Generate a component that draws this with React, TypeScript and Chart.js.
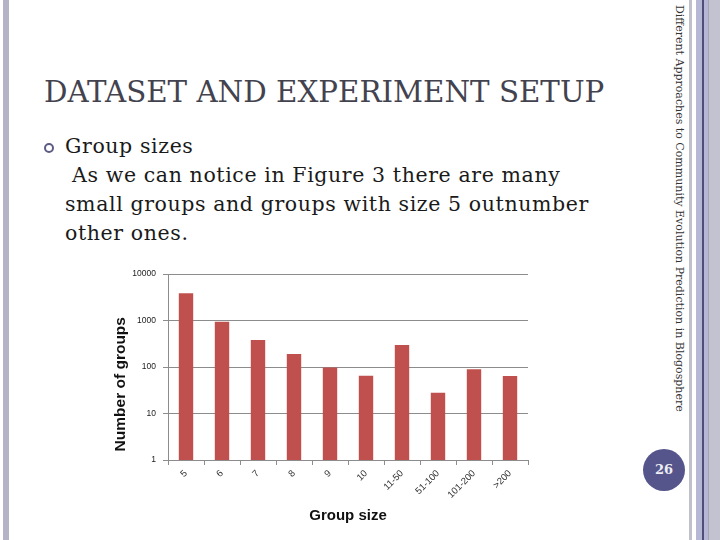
import React, { useEffect, useRef } from "react";
import { Chart, registerables } from "chart.js";

Chart.register(...registerables);

const groupSizes = ["5", "6", "7", "8", "9", "10", "11-50", "51-100", "101-200", ">200"];
const groupCounts = [3850, 940, 380, 190, 98, 65, 300, 28, 90, 64];
const countTicks = [1, 10, 100, 1000, 10000];

const slideTitle = "DATASET AND EXPERIMENT SETUP";
const bulletHead = "Group sizes";
const bulletLines = [
    "\u00a0As we can notice in Figure 3 there are many",
    "small groups and groups with size 5 outnumber",
    "other ones.",
];
const sideText = "Different Approaches to Community Evolution Prediction in Blogosphere";
const pageNumber = "26";

const axisGrey = "#8c8c8c";

const GroupSizeChart: React.FC = () => {
    const chartRef = useRef<HTMLCanvasElement | null>(null);

    useEffect(() => {
        if (!chartRef.current) return;
        const chart = new Chart(chartRef.current, {
            type: "bar",
            data: {
                labels: groupSizes,
                datasets: [
                    {
                        label: "Number of groups",
                        data: groupCounts,
                        backgroundColor: "#c0504d",
                        barPercentage: 0.4,
                        categoryPercentage: 1,
                    },
                ],
            },
            options: {
                animation: false,
                responsive: false,
                layout: {padding: {top: 12, right: 12, left: 0, bottom: 0}},
                plugins: {
                    legend: {display: false},
                    tooltip: {enabled: false},
                },
                scales: {
                    x: {
                        afterFit: (scale: any) => {
                            scale.height = 72;
                        },
                        grid: {
                            drawOnChartArea: false,
                            drawTicks: true,
                            tickLength: 5,
                            color: axisGrey,
                            offset: true,
                        },
                        border: {color: axisGrey},
                        ticks: {
                            minRotation: 45,
                            maxRotation: 45,
                            padding: 3,
                            color: "#333",
                            font: {family: "'Liberation Sans', Arial", size: 9.5},
                        },
                        title: {
                            display: true,
                            text: "Group size",
                            color: "#111",
                            font: {family: "'Liberation Sans', Arial", size: 15, weight: "bold"},
                            padding: {top: 0, bottom: 7},
                        },
                    },
                    y: {
                        type: "logarithmic",
                        min: 1,
                        max: 10000,
                        afterFit: (scale: any) => {
                            scale.width = 68;
                        },
                        afterBuildTicks: (scale: any) => {
                            scale.ticks = countTicks.map((v) => ({value: v}));
                        },
                        grid: {color: axisGrey, tickLength: 5},
                        border: {color: axisGrey},
                        ticks: {
                            padding: 7,
                            color: "#222",
                            font: {family: "'Liberation Sans', Arial", size: 8.5},
                            callback: (v: any) => String(v),
                        },
                        title: {
                            display: true,
                            // leading spaces lift the title a little off the axis corner
                            text: "\u00a0\u00a0Number of groups",
                            align: "start",
                            color: "#111",
                            font: {family: "'Liberation Sans', Arial", size: 15.5, weight: "bold"},
                            padding: {top: 11, bottom: 0},
                        },
                    },
                },
            },
        });
        return () => chart.destroy();
    }, []);

    return (
        <canvas
            ref={chartRef}
            width={440}
            height={270}
            style={{position: "absolute", left: 100, top: 262}}
        />
    );
};

const App: React.FC = () => {
    const serif = "'DejaVu Serif', serif";
    return (
        <div
            style={{
                position: "fixed",
                left: 0,
                top: 0,
                width: 720,
                height: 540,
                background: "#fff",
                overflow: "hidden",
            }}
        >
            {/* slide frame stripes */}
            <div style={{position: "absolute", left: 3, top: 0, width: 6, height: 540, background: "#b4b4c6"}}/>
            <div style={{position: "absolute", left: 689, top: 0, width: 3, height: 540, background: "#c0c0cc"}}/>
            <div style={{position: "absolute", left: 696, top: 0, width: 13, height: 540, background: "#b6b6d6"}}/>
            <div style={{position: "absolute", left: 702, top: 0, width: 1.5, height: 540, background: "#4e4e78"}}/>
            <div style={{position: "absolute", left: 707.5, top: 0, width: 1.5, height: 540, background: "#a4a4b4"}}/>
            <div style={{position: "absolute", left: 709, top: 0, width: 11, height: 540, background: "#c2c2d0"}}/>

            <div
                style={{
                    position: "absolute",
                    left: 44,
                    top: 76,
                    fontFamily: serif,
                    fontSize: 29.3,
                    lineHeight: "32px",
                    color: "#43434f",
                    whiteSpace: "nowrap",
                }}
            >
                {slideTitle}
            </div>

            <div
                style={{
                    position: "absolute",
                    left: 44,
                    top: 143,
                    width: 6,
                    height: 6,
                    borderRadius: "50%",
                    border: "2.5px solid #5c5c82",
                }}
            />
            <div
                style={{
                    position: "absolute",
                    left: 65,
                    top: 132,
                    fontFamily: serif,
                    fontSize: 20.5,
                    letterSpacing: "0.6px",
                    lineHeight: "29px",
                    color: "#1a1a1a",
                    whiteSpace: "pre",
                }}
            >
                {bulletHead}
                {bulletLines.map((line) => (
                    <div key={line}>{line}</div>
                ))}
            </div>

            <div
                style={{
                    position: "absolute",
                    left: 686,
                    top: 5,
                    transformOrigin: "0 0",
                    transform: "rotate(90deg)",
                    fontFamily: serif,
                    fontSize: 11,
                    lineHeight: "14px",
                    color: "#333",
                    whiteSpace: "nowrap",
                }}
            >
                {sideText}
            </div>

            <div
                style={{
                    position: "absolute",
                    left: 643,
                    top: 449,
                    width: 42,
                    height: 42,
                    borderRadius: "50%",
                    background: "#55558b",
                    color: "#eeeef4",
                    fontFamily: serif,
                    fontWeight: "bold",
                    fontSize: 13,
                    lineHeight: "42px",
                    textAlign: "center",
                }}
            >
                {pageNumber}
            </div>

            <GroupSizeChart/>
        </div>
    );
};

export default App;
